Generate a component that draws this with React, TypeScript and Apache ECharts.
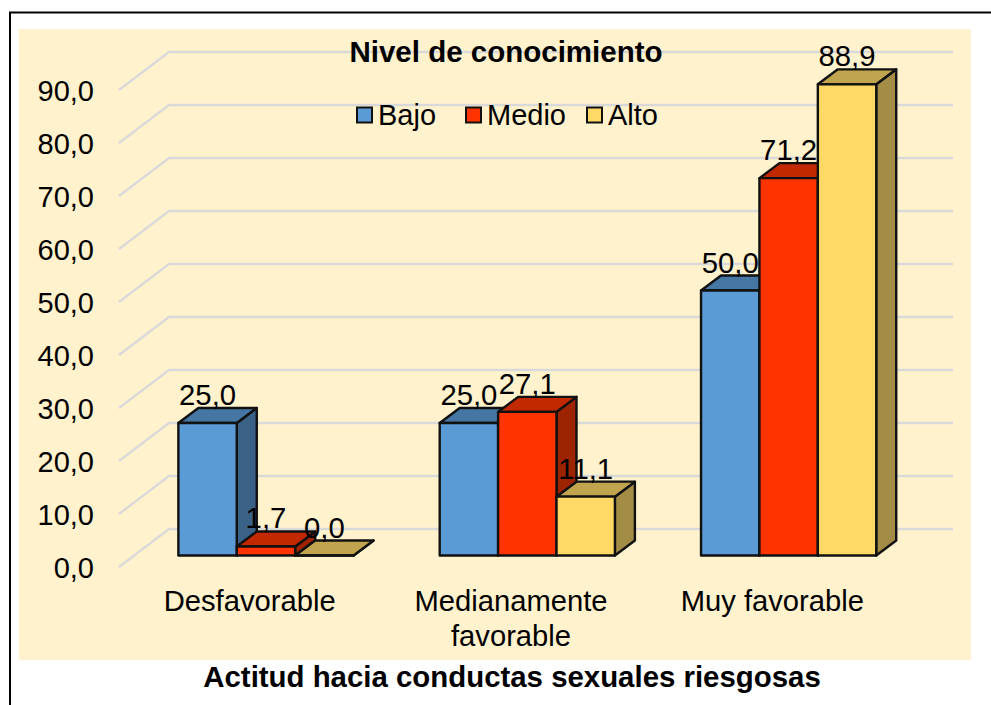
import React, { useEffect, useRef } from "react";
import * as echarts from "echarts";

const categories = ["Desfavorable", "Medianamente\nfavorable", "Muy favorable"];
const seriesNames = ["Bajo", "Medio", "Alto"];
const bajo = [25.0, 25.0, 50.0];
const medio = [1.7, 27.1, 71.2];
const alto = [0.0, 11.1, 88.9];
const gridTicks = [0, 10, 20, 30, 40, 50, 60, 70, 80, 90];
const fronts = ["#5B9BD5", "#FF3300", "#FFD966"];
const tops = ["#4676A3", "#C22900", "#C1A54E"];
const sides = ["#3A6186", "#9C2400", "#A38C45"];

const FONT = "'Liberation Sans', Arial, sans-serif";
const fmt = (v: number) => v.toFixed(1).replace(".", ",");

const GRID_L = 119;
const GRID_T = 90;
const GRID_W = 784;
const GRID_H = 477;
const WALL_DX = 50;
const WALL_DY = -38;
const BAR_W = 58.4;
const DEPTH_DX = 20;
const DEPTH_DY = -15;
const SHIFT_X = 16.3;
const SHIFT_Y = -11.5;
const EDGE = "#111111";

function barSeries(idx: number, values: number[]) {
  return {
    type: "custom",
    name: seriesNames[idx],
    coordinateSystem: "cartesian2d",
    z: 3 + idx,
    itemStyle: { color: fronts[idx], borderColor: EDGE, borderWidth: 2 },
    encode: { x: 0, y: 1 },
    data: values.map((v, i) => [i, v]),
    renderItem: (_p: any, api: any) => {
      const cat = api.value(0);
      const v = api.value(1);
      const c = api.coord([cat, v]);
      const b = api.coord([cat, 0]);
      const x0 = c[0] + SHIFT_X + (idx - 1.5) * BAR_W;
      const x1 = x0 + BAR_W;
      const yT = c[1] + SHIFT_Y;
      const yB = b[1] + SHIFT_Y;
      const line = { stroke: EDGE, lineWidth: 2.4, lineJoin: "round" };
      const face = (pts: number[][], fill: string) => ({
        type: "polygon",
        shape: { points: pts },
        style: { fill, ...line },
      });
      return {
        type: "group",
        children: [
          face(
            [[x1, yT], [x1 + DEPTH_DX, yT + DEPTH_DY], [x1 + DEPTH_DX, yB + DEPTH_DY], [x1, yB]],
            sides[idx]
          ),
          face(
            [[x0, yT], [x0 + DEPTH_DX, yT + DEPTH_DY], [x1 + DEPTH_DX, yT + DEPTH_DY], [x1, yT]],
            tops[idx]
          ),
          face([[x0, yT], [x1, yT], [x1, yB], [x0, yB]], fronts[idx]),
          {
            type: "text",
            z2: 100,
            x: (x0 + x1) / 2,
            y: yT + DEPTH_DY + 1,
            style: {
              text: fmt(v),
              fill: "#000",
              font: `29.3px ${FONT}`,
              textAlign: "center",
              textVerticalAlign: "bottom",
            },
          },
        ],
      };
    },
  };
}

const gridSeries = {
  type: "custom",
  coordinateSystem: "cartesian2d",
  silent: true,
  z: 1,
  encode: { y: 1 },
  data: gridTicks.map((t) => [0, t]),
  renderItem: (p: any, api: any) => {
    const y = api.coord([0, api.value(1)])[1];
    const xL = p.coordSys.x;
    const xR = xL + p.coordSys.width;
    return {
      type: "polyline",
      shape: {
        points: [
          [xL, y],
          [xL + WALL_DX, y + WALL_DY],
          [xR + WALL_DX, y + WALL_DY],
        ],
      },
      style: { stroke: "#D9D9D9", lineWidth: 2.4, fill: "none" },
    };
  },
};

const legendBase = {
  orient: "horizontal",
  icon: "rect",
  itemWidth: 15,
  itemHeight: 15,
  itemGap: 0,
  padding: 0,
  top: 100.5,
  textStyle: { fontFamily: FONT, fontSize: 29, color: "#000", padding: [0, 0, 0, 1] },
};

export default function App() {
  const ref = useRef<HTMLDivElement>(null);
  useEffect(() => {
    const chart = echarts.init(ref.current!, undefined, { renderer: "svg" });
    chart.setOption({
      animation: false,
      textStyle: { fontFamily: FONT },
      title: [
        {
          text: "Nivel de conocimiento",
          left: 506,
          top: 36,
          padding: 0,
          textAlign: "center",
          textStyle: { fontFamily: FONT, fontSize: 29.5, fontWeight: "bold", color: "#000" },
        },
        {
          text: "Actitud hacia conductas sexuales riesgosas",
          left: 512,
          top: 662,
          padding: 0,
          textAlign: "center",
          textStyle: { fontFamily: FONT, fontSize: 29.4, fontWeight: "bold", color: "#000" },
        },
      ],
      legend: [
        { ...legendBase, left: 356, data: [seriesNames[0]] },
        { ...legendBase, left: 465, data: [seriesNames[1]] },
        { ...legendBase, left: 586, data: [seriesNames[2]] },
      ],
      grid: { left: GRID_L, top: GRID_T, width: GRID_W, height: GRID_H, containLabel: false },
      xAxis: {
        type: "category",
        data: categories,
        axisLine: { show: false },
        axisTick: { show: false },
        axisLabel: {
          interval: 0,
          margin: 16,
          fontFamily: FONT,
          fontSize: 29.2,
          lineHeight: 35,
          color: "#000",
        },
      },
      yAxis: {
        type: "value",
        min: 0,
        max: 90,
        interval: 10,
        axisLine: { show: false },
        axisTick: { show: false },
        splitLine: { show: false },
        axisLabel: {
          margin: 25,
          fontFamily: FONT,
          fontSize: 29,
          color: "#000",
          lineHeight: 32,
          verticalAlign: "top",
          padding: [-15, 0, 0, 0],
          formatter: (v: number) => fmt(v),
        },
      },
      graphic: [
        {
          type: "rect",
          z: -10,
          silent: true,
          shape: { x: 19, y: 29, width: 952, height: 631 },
          style: { fill: "#FFF2CC" },
        },
        {
          type: "polyline",
          z: -9,
          silent: true,
          shape: { points: [[10, 705], [10, 12.5], [991, 12.5]] },
          style: { stroke: "#000", lineWidth: 2, fill: "none" },
        },
      ],
      series: [gridSeries, barSeries(0, bajo), barSeries(1, medio), barSeries(2, alto)],
    });
    return () => chart.dispose();
  }, []);
  return (
    <div
      ref={ref}
      style={{ position: "absolute", left: 0, top: 0, width: 991, height: 705, background: "#fff" }}
    />
  );
}
